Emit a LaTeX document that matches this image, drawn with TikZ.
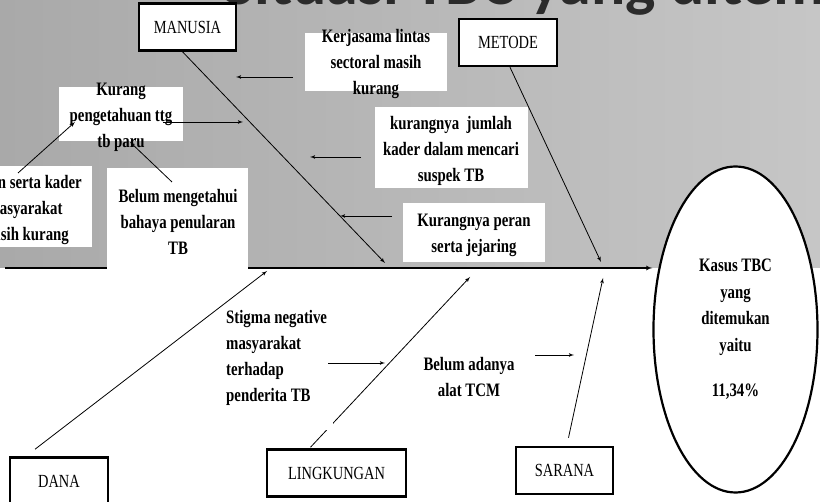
\documentclass[tikz,border=0pt]{standalone}
\usepackage{fontspec}
\setmainfont{Liberation Serif}[FakeStretch=0.78]
\newfontfamily\titlefont{Carlito}
\usepackage{tikz}
\usetikzlibrary{arrows}
\usetikzlibrary{shapes}

\definecolor{bgleft}{HTML}{A9A9A9}
\definecolor{bgmid}{HTML}{EDEDED}
\definecolor{bgright}{HTML}{C6C6C6}
\definecolor{titlegray}{HTML}{2B2B2B}

\begin{document}
\begin{tikzpicture}[x=1pt, y=-1pt,
	cat/.style={rectangle, draw=black, line width=2.5pt, fill=white, inner sep=0pt, minimum height=47pt, font=\fontsize{18.5}{20}\selectfont},
	cause/.style={align=center, inner sep=0pt, font=\fontsize{19}{26}\selectfont\bfseries},
	bone/.style={line width=0.8pt, -latex'},
	sub/.style={line width=0.8pt, -latex'}]
	
	\useasboundingbox (0,0) rectangle (820,502);
	\clip (0,0) rectangle (820,502);
	
	% background of the slide
	\shade[left color=bgleft, middle color=bgmid, right color=bgright] (0,0) rectangle (820,268);
	\node[anchor=base west, inner sep=0pt, text=titlegray, font=\titlefont\fontsize{64}{64}\selectfont\bfseries] (judul) at (224,5) {Situasi TBC yang ditemukan};
	
	% categories
	\node[cat, minimum width=97pt] (manusia) at (187.5,27) {MANUSIA};
	\node[cat, minimum width=98pt] (metode) at (508,42.5) {METODE};
	\node[cat, minimum width=98pt] (dana) at (59,481) {DANA};
	\node[cat, minimum width=139pt] (lingkungan) at (336.5,473) {LINGKUNGAN};
	\node[cat, minimum width=97pt] (sarana) at (564.5,470.5) {SARANA};
	
	% effect
	\node[ellipse, draw=black, line width=2.2pt, fill=white, inner sep=0pt, minimum width=164pt, minimum height=326pt, align=center, font=\fontsize{19}{26.5}\selectfont\bfseries] (kasus) at (735.5,329.5) {Kasus TBC\\ yang\\ ditemukan\\ yaitu\\[19pt] 11,34\%};
	
	% spine and bones
	\coordinate (tail) at (5,268);
	\coordinate (mS) at (385,263);
	\coordinate (meS) at (601,262);
	\coordinate (dS) at (267,271);
	\coordinate (lS) at (470,277);
	\coordinate (sS) at (603,278);
	\path [line width=1.2pt, draw, -latex'] (tail) -- (tail -| kasus.west);
	\path [bone, draw] ([xshift=-5pt]manusia.south) -- (mS);
	\path [bone, draw] ([xshift=2pt]metode.south) -- (meS);
	\path [bone, draw] ([xshift=-24pt,yshift=7pt]dana.north) -- (dS);
	\path [bone, draw] ([xshift=-26pt,yshift=1pt]lingkungan.north) -- (lS);
	\path [bone, draw] ([xshift=4pt,yshift=8pt]sarana.north) -- (sS);
	
	% white boxes behind the causes
	\fill[white] (305,33) rectangle (447,91);
	\fill[white] (59,87) rectangle (183,141);
	\fill[white] (-5,166) rectangle (92,247);
	\fill[white] (107,168) rectangle (248,270);
	\fill[white] (375,107) rectangle (528,188);
	\fill[white] (403,203) rectangle (545,262);
	\fill[white] (230,300) rectangle (333,430);
	
	% causes
	\node[cause] (kerjasama) at (376,64) {Kerjasama lintas\\ sectoral masih\\ kurang};
	\node[cause] (pengetahuan) at (121,117.5) {Kurang\\ pengetahuan ttg\\ tb paru};
	\node[cause] (kader) at (25,210) {Peran serta kader\\ masyarakat\\ masih kurang};
	\node[cause] (bahaya) at (178,221.5) {Belum mengetahui\\ bahaya penularan\\ TB};
	\node[cause] (jumlah) at (451,151) {kurangnya\ \ jumlah\\ kader dalam mencari\\ suspek TB};
	\node[cause] (jejaring) at (474,235) {Kurangnya peran\\ serta jejaring};
	\node[cause, align=left, anchor=west] (stigma) at (226,357.5) {Stigma negative\\ masyarakat\\ terhadap\\ penderita TB};
	\node[cause] (tcm) at (469,377.5) {Belum adanya\\ alat TCM};
	
	% small arrows of the causes
	\coordinate (a1) at (293,77);  \coordinate (b1) at (236,77);
	\coordinate (a2) at (163,122); \coordinate (b2) at (243,122);
	\coordinate (a3) at (18,173);  \coordinate (b3) at (75,122);
	\coordinate (a4) at (172,182); \coordinate (b4) at (130,142);
	\coordinate (a5) at (361,157); \coordinate (b5) at (310,157);
	\coordinate (a6) at (392,216); \coordinate (b6) at (340,216);
	\coordinate (a7) at (328,363); \coordinate (b7) at (385,363);
	\coordinate (a8) at (535,355); \coordinate (b8) at (574,355);
	\path [sub, draw] (a1) -- (b1);
	\path [sub, draw] (a2) -- (b2);
	\path [sub, draw] (a3) -- (b3);
	\path [sub, draw] (a4) -- (b4);
	\path [sub, draw] (a5) -- (b5);
	\path [sub, draw] (a6) -- (b6);
	\path [sub, draw] (a7) -- (b7);
	\path [sub, draw] (a8) -- (b8);
\end{tikzpicture}
\end{document}
